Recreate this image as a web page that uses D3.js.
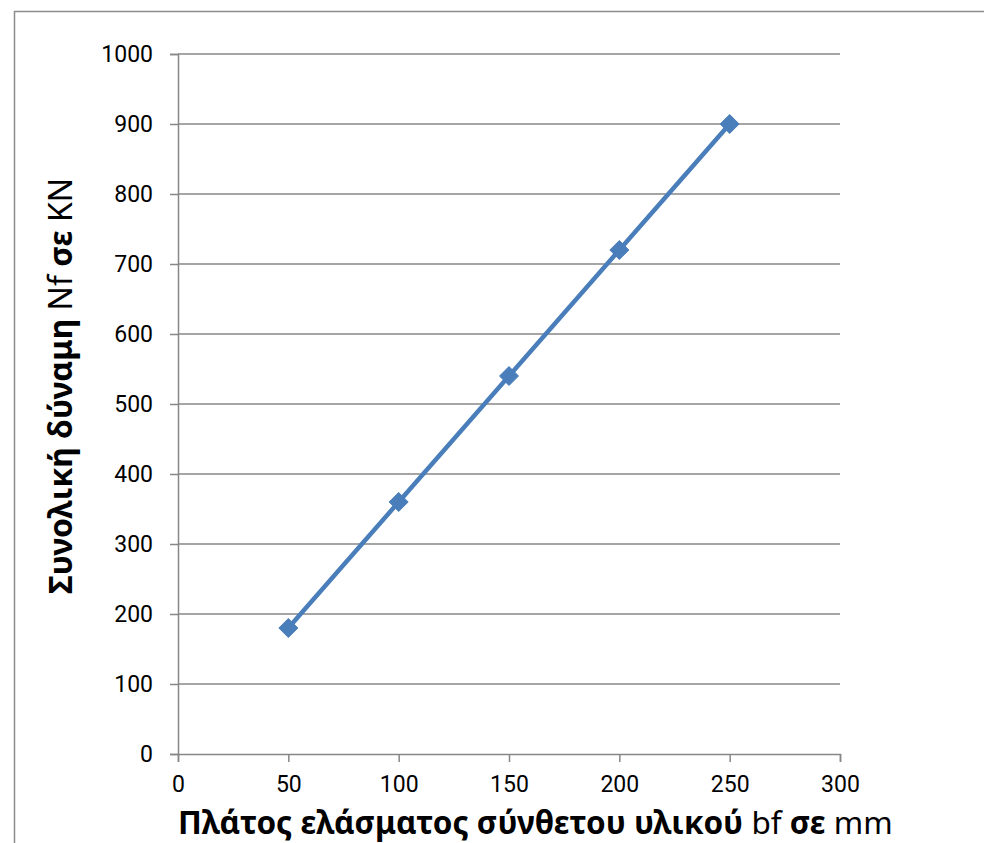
<!DOCTYPE html>
<html>
<head>
<meta charset="utf-8">
<script src="https://cdn.jsdelivr.net/npm/d3@7"></script>
<style>
  html, body { margin: 0; padding: 0; background: #fff; }
  svg { display: block; }
</style>
</head>
<body>
<svg id="chart" width="984" height="843"></svg>
<script>
// Plate width bf (mm) against total force Nf (kN)
const widths = [50, 100, 150, 200, 250];
const forces = [180, 360, 540, 720, 900];
const xTicks = [0, 50, 100, 150, 200, 250, 300];
const yTicks = [0, 100, 200, 300, 400, 500, 600, 700, 800, 900, 1000];

const svg = d3.select("#chart");
const W = 984, H = 843;
const plot = { left: 178, right: 840, top: 54, bottom: 754 };
const gridColor = "#878787";
const seriesColor = "#4a7ebb";
const tickFont = "Roboto, 'Noto Sans', sans-serif";
const titleFont = "'Noto Sans', 'Open Sans', sans-serif";

// chart frame
svg.append("rect")
  .attr("x", 14.5).attr("y", 11.5)
  .attr("width", W + 20).attr("height", H + 20)
  .attr("fill", "#fff")
  .attr("stroke", "#8c8c8c").attr("stroke-width", 1.5);

const x = d3.scaleLinear().domain([0, 300]).range([plot.left, plot.right]);
const y = d3.scaleLinear().domain([0, 1000]).range([plot.bottom, plot.top]);

// horizontal gridlines
svg.append("g")
  .selectAll("line")
  .data(yTicks.filter(d => d > 0))
  .join("line")
  .attr("x1", plot.left).attr("x2", plot.right)
  .attr("y1", d => y(d)).attr("y2", d => y(d))
  .attr("stroke", gridColor).attr("stroke-width", 1.5);

// y axis
const yAxis = svg.append("g")
  .attr("transform", `translate(${plot.left},0)`)
  .call(d3.axisLeft(y).tickValues(yTicks).tickSize(8).tickPadding(17).tickFormat(d3.format("d")));
yAxis.select(".domain").attr("stroke", gridColor).attr("stroke-width", 1.5);
yAxis.selectAll(".tick line").attr("stroke", gridColor).attr("stroke-width", 1.5);
yAxis.selectAll(".tick text")
  .attr("font-family", tickFont).attr("font-size", 23).attr("fill", "#000");

// x axis
const xAxis = svg.append("g")
  .attr("transform", `translate(0,${plot.bottom})`)
  .call(d3.axisBottom(x).tickValues(xTicks).tickSize(8).tickPadding(14).tickFormat(d3.format("d")));
xAxis.select(".domain").attr("stroke", gridColor).attr("stroke-width", 1.5);
xAxis.selectAll(".tick line").attr("stroke", gridColor).attr("stroke-width", 1.5);
xAxis.selectAll(".tick text")
  .attr("font-family", tickFont).attr("font-size", 23).attr("fill", "#000");

// data line
const pts = widths.map((w, i) => [w, forces[i]]);
svg.append("path")
  .datum(pts)
  .attr("fill", "none")
  .attr("stroke", seriesColor)
  .attr("stroke-width", 4.5)
  .attr("stroke-linejoin", "round")
  .attr("d", d3.line().x(d => x(d[0])).y(d => y(d[1])));

// diamond markers
svg.append("g")
  .selectAll("path")
  .data(pts)
  .join("path")
  .attr("transform", d => `translate(${x(d[0])},${y(d[1])})`)
  .attr("d", "M0,-9.5L9.5,0L0,9.5L-9.5,0Z")
  .attr("fill", seriesColor)
  .attr("stroke", seriesColor).attr("stroke-width", 1);

// axis titles: Greek words bold, symbols and units regular
function title(sel, parts) {
  parts.forEach(([txt, bold]) => {
    sel.append("tspan").text(txt).attr("font-weight", bold ? 700 : 400);
  });
}

const xt = svg.append("text")
  .attr("x", 178).attr("y", 834)
  .attr("text-anchor", "start")
  .attr("font-family", titleFont).attr("font-size", 31.5).attr("fill", "#000");
title(xt, [["Πλάτος ελάσματος σύνθετου υλικού ", true], ["bf ", false], ["σε ", true], ["mm", false]]);

const yt = svg.append("text")
  .attr("transform", "translate(72,594) rotate(-90)")
  .attr("text-anchor", "start")
  .attr("font-family", titleFont).attr("font-size", 32).attr("fill", "#000");
title(yt, [["Συνολική δύναμη ", true], ["Nf ", false], ["σε ", true], ["KN", false]]);
</script>
</body>
</html>
